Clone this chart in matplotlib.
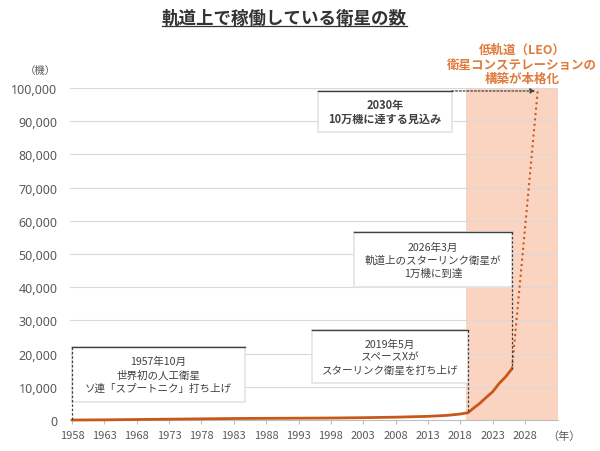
import matplotlib
matplotlib.use("Agg")
import matplotlib.pyplot as plt
from matplotlib.patches import Rectangle
from matplotlib.lines import Line2D

plt.rcParams['font.family'] = ['Noto Sans CJK JP', 'DejaVu Sans']

# data
years = [1958, 1963, 1968, 1973, 1978, 1983, 1988, 1993, 1998, 2003, 2008,
         2013, 2016, 2018, 2019.2, 2020, 2021, 2022, 2023, 2024, 2025, 2026]
sats = [0, 50, 150, 250, 350, 450, 500, 550, 600, 700, 850,
        1100, 1400, 1800, 2200, 3500, 5000, 6800, 8500, 11000, 13000, 15500]
proj_years = [2026, 2030]
proj_sats = [15500, 100000]
tick_years = list(range(1958, 2029, 5))
y_ticks = list(range(0, 100001, 10000))

orange = '#C8581A'
pink = '#FBD4C1'
txt = '#404040'

fig = plt.figure(figsize=(6, 4.52), dpi=100)
ax = fig.add_axes([70/600, 31/452, 488/600, 332/452])
ax.set_xlim(1957.69, 2033.1)
ax.set_ylim(0, 100000)

ax.axvspan(2018.9, 2033.1, color=pink, zorder=0, lw=0)
for v in y_ticks[1:]:
    ax.axhline(v, color='#D9D9D9', lw=0.8, zorder=1)

ax.plot(years, sats, color=orange, lw=2, zorder=4, clip_on=False,
        solid_capstyle='round')
ax.plot(proj_years, proj_sats, color=orange, lw=1.5, ls=(0, (1, 1.6)),
        zorder=4, clip_on=False)

for s in ['top', 'right', 'left']:
    ax.spines[s].set_visible(False)
ax.spines['bottom'].set_color('#BFBFBF')
ax.set_xticks(tick_years)
ax.set_xticklabels([str(y) for y in tick_years])
ax.set_yticks(y_ticks)
ax.set_yticklabels([f'{v:,}' for v in y_ticks], fontfamily='Noto Sans')
ax.tick_params(axis='x', colors='#BFBFBF', labelcolor='#595959',
               labelsize=8, length=3, pad=4)
ax.tick_params(axis='y', length=0, labelcolor='#595959', labelsize=9, pad=9)


def note(x0, x1, y0, y1, text, dash_x, dash_y0, bold=False):
    ax.add_patch(Rectangle((x0, y0), x1 - x0, y1 - y0, facecolor='white',
                           edgecolor='#E3E3E3', lw=1.2, zorder=5))
    ax.plot([x0, x1], [y1, y1], color='#404040', lw=1, zorder=6)
    if dash_x is not None:
        ax.plot([dash_x, dash_x], [y1, dash_y0], color='#404040', lw=0.9,
                ls=(0, (2, 1.5)), zorder=6, clip_on=False)
    ax.text((x0 + x1) / 2, (y0 + y1) / 2, text, ha='center', va='center',
            fontsize=8 if bold else 7.6, color=txt,
            linespacing=1.15 if bold else 1.38,
            fontweight='bold' if bold else 'normal', zorder=7)


note(1958, 1984.7, 5400, 22000,
     '1957年10月\n世界初の人工衛星\nソ連「スプートニク」打ち上げ', 1958, 0)
note(1995.1, 2019.2, 11100, 27100,
     '2019年5月\nスペースXが\nスターリンク衛星を打ち上げ', 2019.2, 2200)
note(2001.6, 2026.0, 40000, 56600,
     '2026年3月\n軌道上のスターリンク衛星が\n1万機に到達', 2026.0, 15500)
note(1996.0, 2016.7, 86700, 99100,
     '2030年\n10万機に達する見込み', None, None, bold=True)
ax.annotate('', xy=(2029.6, 99100), xytext=(2016.7, 99100),
            arrowprops=dict(arrowstyle='-|>', color='#404040', lw=0.9,
                            ls=(0, (1.5, 1.5)), mutation_scale=7,
                            shrinkA=0, shrinkB=0),
            zorder=7, annotation_clip=False)

title = fig.text(284.5/600, 1 - 19/452, '軌道上で稼働している衛星の数',
                 ha='center', va='center', fontsize=12.6, fontweight='bold',
                 color='#333333')
fig.text(522/600, 1 - 65/452, '低軌道（LEO）\n衛星コンステレーションの\n構築が本格化',
         ha='center', va='center', fontsize=9, fontweight='bold',
         color='#E07B3C', linespacing=1.15)
fig.text(40/600, 1 - 71/452, '（機）', ha='center', va='center',
         fontsize=7.5, color='#595959')
fig.text(564/600, 1 - 437/452, '（年）', ha='center', va='center',
         fontsize=8, color='#595959')

# underline the title
fig.canvas.draw()
bb = title.get_window_extent().transformed(fig.transFigure.inverted())
fig.add_artist(Line2D([bb.x0, bb.x1], [bb.y0 + 0.002, bb.y0 + 0.002],
                      color='#333333', lw=0.9))

fig.savefig('out.png', dpi=100)
